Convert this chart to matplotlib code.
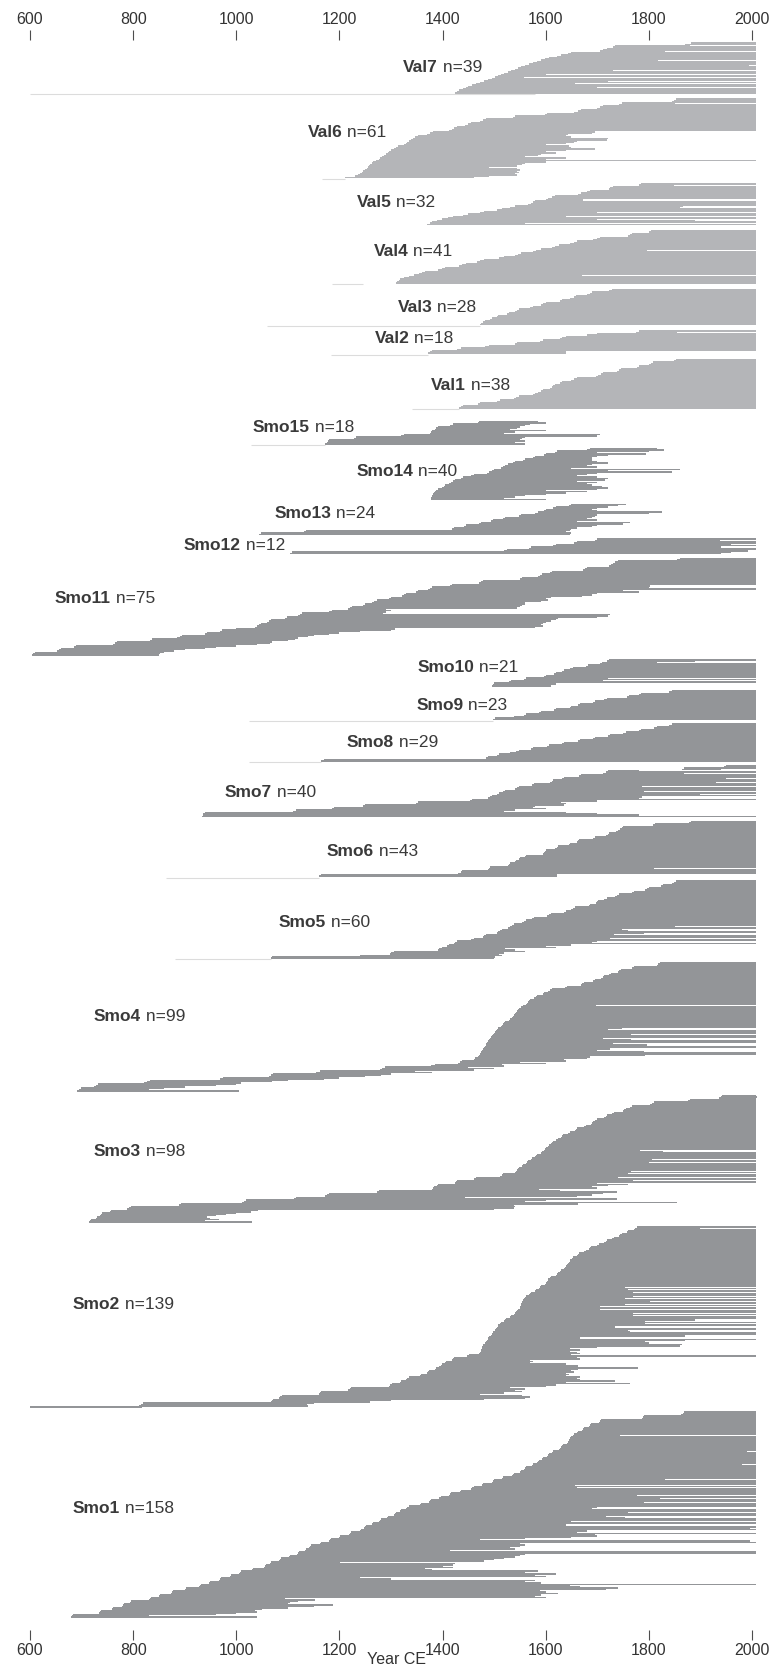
import numpy as np
import matplotlib
matplotlib.use("Agg")
import matplotlib.pyplot as plt

plt.rcParams["font.family"] = ["Liberation Sans", "DejaVu Sans"]

# first / last ring year of every dated sample, sorted by first year within each site
val7_start = [1882, 1870, 1735, 1730, 1718, 1712, 1705, 1650, 1644, 1630,
              1622, 1606, 1598, 1590, 1584, 1575, 1568, 1560, 1553, 1546,
              1540, 1533, 1526, 1520, 1514, 1508, 1502, 1496, 1488, 1480,
              1472, 1465, 1458, 1450, 1446, 1440, 1432, 1428, 1425]
val7_end = [2007, 2007, 1880, 2007, 2007, 2007, 1832, 2007, 2007, 2007,
            2007, 2007, 2007, 1818, 2007, 2007, 2007, 1995, 2007, 2007,
            2007, 1730, 2007, 2007, 1600, 2007, 1557, 2007, 2007, 1720,
            2007, 1657, 2007, 2007, 1700, 2007, 2007, 2007, 2007]

val6_start = [1852, 1848, 1845, 1748, 1742, 1712, 1706, 1700, 1668, 1662,
              1655, 1603, 1598, 1540, 1536, 1485, 1478, 1472, 1455, 1449,
              1443, 1428, 1422, 1418, 1412, 1382, 1376, 1370, 1352, 1347,
              1342, 1338, 1334, 1332, 1330, 1326, 1314, 1310, 1306, 1300,
              1296, 1294, 1291, 1287, 1282, 1279, 1276, 1270, 1266, 1264,
              1260, 1257, 1255, 1253, 1250, 1246, 1244, 1240, 1236, 1230,
              1211]
val6_end = [2007, 2007, 2007, 1850, 2007, 2007, 2007, 2007, 2007, 2007,
            2007, 2007, 2007, 2007, 2007, 2007, 2007, 2007, 2007, 2007,
            2007, 2007, 2007, 2007, 2007, 1696, 1690, 1643, 1640, 1650,
            1720, 1718, 1660, 1655, 1640, 1600, 1645, 1650, 1696, 1640,
            1600, 1620, 1590, 1585, 1560, 1640, 1600, 2007, 1600, 1560,
            1555, 1545, 1490, 1545, 1550, 1545, 1548, 1540, 1545, 1490,
            1460]

val5_start = [1785, 1780, 1730, 1725, 1722, 1685, 1680, 1668, 1662, 1618,
              1612, 1605, 1600, 1580, 1576, 1572, 1566, 1540, 1530, 1515,
              1505, 1480, 1473, 1450, 1440, 1421, 1410, 1398, 1389, 1380,
              1375, 1369]
val5_end = [2007, 1848, 2007, 2007, 2007, 2007, 2007, 2007, 2007, 2007,
            2007, 2007, 1673, 1673, 2007, 2007, 2007, 1867, 1860, 2007,
            2007, 2007, 1700, 2007, 2007, 1640, 2007, 1700, 1890, 2007,
            1560, 2007]

val4_start = [1805, 1800, 1768, 1764, 1760, 1705, 1699, 1692, 1660, 1654,
              1648, 1625, 1618, 1612, 1590, 1582, 1576, 1552, 1546, 1540,
              1520, 1510, 1480, 1473, 1466, 1445, 1438, 1432, 1405, 1398,
              1392, 1365, 1360, 1355, 1345, 1335, 1325, 1318, 1315, 1312,
              1310]
val4_end = [2007, 2007, 2007, 2007, 2007, 2007, 2007, 2007, 2007, 2007,
            2007, 2007, 2007, 2007, 2007, 1796, 2007, 2007, 2007, 2007,
            2007, 2007, 2007, 2007, 2007, 2007, 2007, 2007, 2007, 2007,
            2007, 2007, 2007, 2007, 1670, 2007, 2007, 2007, 2007, 2007,
            2007]

val3_start = [1728, 1722, 1690, 1686, 1680, 1658, 1654, 1648, 1632, 1628,
              1600, 1595, 1590, 1575, 1570, 1548, 1544, 1540, 1528, 1524,
              1508, 1505, 1495, 1492, 1482, 1479, 1475, 1472]
val3_end = [2007, 2007, 2007, 2007, 2007, 2007, 2007, 2007, 2007, 2007,
            2007, 2007, 2007, 2007, 2007, 2007, 2007, 2007, 2007, 2007,
            2007, 2007, 2007, 2007, 2007, 2007, 2007, 2007]

val2_start = [1780, 1776, 1700, 1680, 1640, 1632, 1628, 1595, 1588, 1545,
              1540, 1490, 1483, 1435, 1428, 1380, 1376, 1372]
val2_end = [2007, 1855, 2007, 2007, 2007, 2007, 2007, 2007, 2007, 2007,
            2007, 2007, 2007, 2007, 2007, 2007, 1640, 1640]

val1_start = [1852, 1848, 1808, 1804, 1800, 1780, 1777, 1746, 1742, 1738,
              1712, 1708, 1702, 1698, 1660, 1655, 1650, 1632, 1628, 1618,
              1614, 1612, 1608, 1594, 1590, 1586, 1580, 1576, 1548, 1542,
              1538, 1512, 1506, 1472, 1468, 1440, 1436, 1432]
val1_end = [2007, 2007, 2007, 2007, 2007, 2007, 2007, 2007, 2007, 2007,
            2007, 2007, 2007, 2007, 2007, 2007, 2007, 2007, 2007, 2007,
            2007, 2007, 2007, 2007, 2007, 2007, 2007, 2007, 2007, 2007,
            2007, 2007, 2007, 2007, 2007, 2007, 2007, 2007]

smo15_start = [1470, 1468, 1420, 1415, 1392, 1388, 1385, 1380, 1378, 1375,
               1325, 1320, 1232, 1228, 1180, 1177, 1175, 1172]
smo15_end = [1585, 1600, 1570, 1560, 1550, 1545, 1530, 1600, 1540, 1520,
             1705, 1700, 1560, 1555, 1550, 1560, 1540, 1560]

smo14_start = [1685, 1680, 1622, 1618, 1600, 1596, 1580, 1576, 1560, 1556,
               1540, 1536, 1526, 1522, 1518, 1514, 1500, 1496, 1490, 1486,
               1460, 1456, 1440, 1436, 1425, 1420, 1416, 1412, 1405, 1402,
               1398, 1392, 1388, 1385, 1383, 1381, 1380, 1379, 1378, 1377]
smo14_end = [1815, 1830, 1800, 1700, 1795, 1720, 1700, 1690, 1690, 1690,
             1700, 1720, 1690, 1680, 1700, 1650, 1860, 1720, 1845, 1700,
             1680, 1660, 1700, 1720, 1715, 1660, 1700, 1680, 1690, 1710,
             1720, 1700, 1600, 1680, 1640, 1600, 1560, 1540, 1520, 1600]

smo13_start = [1650, 1645, 1620, 1615, 1600, 1596, 1585, 1580, 1552, 1548,
               1522, 1518, 1498, 1494, 1474, 1470, 1446, 1442, 1422, 1418,
               1135, 1132, 1048, 1045]
smo13_end = [1755, 1740, 1720, 1700, 1690, 1700, 1826, 1800, 1700, 1696,
             1690, 1680, 1700, 1660, 1764, 1750, 1700, 1690, 1660, 1650,
             1648, 1640, 1650, 1648]

smo12_start = [1700, 1695, 1660, 1655, 1620, 1615, 1572, 1568, 1524, 1520,
               1108, 1105]
smo12_end = [2007, 1938, 2007, 2007, 1960, 2007, 1940, 2007, 2007, 1992,
             1960, 1940]

smo11_start = [1860, 1855, 1740, 1735, 1730, 1726, 1722, 1680, 1676, 1672,
               1612, 1608, 1592, 1588, 1585, 1555, 1550, 1478, 1474, 1470,
               1418, 1414, 1380, 1376, 1372, 1352, 1348, 1330, 1326, 1322,
               1300, 1296, 1272, 1268, 1264, 1250, 1246, 1224, 1220, 1216,
               1185, 1180, 1128, 1124, 1120, 1098, 1094, 1068, 1064, 1060,
               1048, 1045, 1040, 1036, 1000, 972, 968, 944, 940, 895,
               890, 886, 836, 832, 768, 764, 760, 690, 686, 660,
               656, 652, 610, 606, 604]
smo11_end = [2007, 2007, 2007, 2007, 2007, 2007, 2007, 2007, 2007, 2007,
             2007, 2007, 2007, 2007, 2007, 2007, 2007, 2007, 2007, 2007,
             2007, 1803, 1800, 2007, 2007, 1750, 1780, 1700, 1690, 1670,
             1610, 1600, 1605, 1590, 1560, 1560, 1555, 1550, 1545, 1290,
             1300, 1290, 1285, 1725, 1720, 1700, 1623, 1620, 1610, 1600,
             1595, 1590, 1594, 1580, 1308, 1300, 1240, 1200, 1180, 1150,
             1140, 1120, 1114, 1100, 1070, 1065, 1040, 1000, 960, 940,
             900, 880, 860, 852, 850]

smo10_start = [1722, 1718, 1710, 1706, 1682, 1678, 1652, 1648, 1636, 1632,
               1620, 1617, 1600, 1596, 1562, 1558, 1532, 1528, 1500, 1497,
               1495]
smo10_end = [2007, 1890, 1815, 2007, 2007, 2007, 2007, 2007, 2007, 2007,
             2007, 2007, 2007, 2007, 1720, 2007, 1712, 2007, 1620, 1620,
             1610]

smo9_start = [1845, 1840, 1785, 1781, 1762, 1758, 1718, 1714, 1696, 1692,
              1666, 1662, 1650, 1647, 1620, 1617, 1590, 1587, 1562, 1558,
              1538, 1502, 1498]
smo9_end = [2007, 2007, 2007, 2007, 2007, 2007, 2007, 2007, 2007, 2007,
            2007, 2007, 2007, 2007, 2007, 2007, 2007, 2007, 2007, 2007,
            2007, 2007, 2007]

smo8_start = [1845, 1840, 1815, 1810, 1785, 1780, 1755, 1750, 1725, 1720,
              1696, 1692, 1666, 1662, 1636, 1632, 1606, 1602, 1576, 1572,
              1548, 1543, 1530, 1510, 1506, 1488, 1484, 1170, 1165]
smo8_end = [2007, 2007, 2007, 2007, 2007, 2007, 2007, 2007, 2007, 2007,
            2007, 2007, 2007, 2007, 2007, 2007, 2007, 2007, 2007, 2007,
            2007, 2007, 2007, 2007, 2007, 2007, 2007, 2007, 2007]

smo7_start = [1950, 1945, 1868, 1864, 1720, 1716, 1712, 1668, 1664, 1636,
              1632, 1615, 1612, 1608, 1578, 1574, 1548, 1544, 1540, 1522,
              1518, 1510, 1506, 1496, 1492, 1488, 1458, 1454, 1352, 1348,
              1250, 1246, 1190, 1186, 1115, 1110, 940, 936, 935, 934]
smo7_end = [2007, 2007, 2007, 1940, 1780, 2007, 1868, 2007, 2007, 2007,
            1950, 2007, 2007, 1930, 2007, 2007, 1786, 2007, 2007, 2007,
            1790, 2007, 1900, 2007, 1786, 1780, 2007, 1700, 1630, 1640,
            1635, 1580, 1575, 1600, 1540, 1520, 1640, 1700, 1780, 2007]

smo6_start = [1882, 1878, 1812, 1808, 1750, 1747, 1745, 1740, 1736, 1722,
              1720, 1717, 1695, 1692, 1665, 1662, 1660, 1648, 1645, 1624,
              1621, 1618, 1600, 1598, 1596, 1594, 1562, 1560, 1550, 1548,
              1542, 1540, 1530, 1528, 1526, 1492, 1490, 1488, 1438, 1435,
              1430, 1165, 1161]
smo6_end = [2007, 2007, 2007, 2007, 2007, 2007, 2007, 2007, 2007, 2007,
            2007, 2007, 2007, 2007, 2007, 2007, 2007, 2007, 2007, 2007,
            2007, 2007, 2007, 2007, 2007, 2007, 2007, 2007, 2007, 2007,
            2007, 2007, 2007, 2007, 2007, 2007, 1810, 2007, 2007, 2007,
            2007, 1622, 1622]

smo5_start = [1852, 1848, 1845, 1828, 1824, 1800, 1796, 1792, 1772, 1768,
              1742, 1738, 1735, 1718, 1714, 1702, 1700, 1698, 1686, 1683,
              1656, 1652, 1650, 1640, 1636, 1610, 1606, 1602, 1578, 1574,
              1562, 1558, 1555, 1538, 1534, 1530, 1527, 1515, 1512, 1508,
              1505, 1484, 1480, 1478, 1460, 1456, 1428, 1425, 1422, 1412,
              1408, 1398, 1394, 1392, 1305, 1300, 1298, 1240, 1070, 1067]
smo5_end = [2007, 2007, 2007, 2007, 2007, 2007, 2007, 2007, 2007, 2007,
            2007, 2007, 2007, 2007, 2007, 2007, 2007, 2007, 2007, 2007,
            2007, 2007, 2007, 2007, 2007, 2007, 2007, 2007, 2007, 2007,
            2007, 2007, 2007, 2007, 2007, 1850, 2007, 1748, 1760, 2007,
            1790, 1732, 2007, 2007, 1725, 2007, 1700, 1690, 2007, 1650,
            1600, 1620, 1521, 1540, 1560, 1520, 1510, 1515, 1502, 1500]

smo4_start = [1822, 1818, 1815, 1772, 1768, 1746, 1742, 1740, 1727, 1723,
              1714, 1711, 1708, 1696, 1692, 1675, 1671, 1668, 1642, 1638,
              1612, 1608, 1605, 1597, 1594, 1584, 1581, 1578, 1570, 1567,
              1565, 1563, 1561, 1556, 1553, 1548, 1546, 1544, 1542, 1540,
              1538, 1536, 1534, 1530, 1528, 1522, 1520, 1518, 1515, 1513,
              1508, 1506, 1504, 1502, 1500, 1498, 1496, 1494, 1492, 1490,
              1488, 1486, 1485, 1484, 1482, 1480, 1478, 1477, 1475, 1474,
              1472, 1470, 1468, 1463, 1460, 1438, 1434, 1430, 1385, 1378,
              1288, 1282, 1278, 1162, 1155, 1072, 1068, 1064, 975, 968,
              832, 826, 822, 732, 728, 724, 698, 695, 692]
smo4_end = [2007, 2007, 2007, 2007, 2007, 2007, 2007, 2007, 2007, 2007,
            2007, 2007, 2007, 2007, 2007, 2007, 2007, 2007, 2007, 2007,
            2007, 2007, 2007, 2007, 2007, 2007, 2007, 2007, 2007, 2007,
            2007, 2007, 2007, 1698, 2007, 2007, 2007, 2007, 2007, 2007,
            2007, 2007, 2007, 2007, 2007, 2007, 2007, 2007, 2007, 2007,
            1748, 1720, 2007, 2007, 2007, 1765, 2007, 2007, 1712, 1765,
            2007, 2007, 1730, 1797, 2007, 2007, 1725, 1700, 1790, 2007,
            2007, 1792, 1685, 1680, 1636, 1640, 1551, 1600, 1515, 1520,
            1450, 1500, 1460, 1346, 1380, 1300, 1280, 1250, 1200, 1170,
            1100, 1070, 1010, 1000, 960, 900, 860, 830, 1006]

smo3_start = [1942, 1939, 1936, 1880, 1876, 1810, 1806, 1802, 1768, 1764,
              1755, 1752, 1750, 1732, 1728, 1718, 1716, 1714, 1700, 1696,
              1691, 1689, 1687, 1678, 1674, 1660, 1658, 1656, 1647, 1643,
              1633, 1631, 1629, 1624, 1620, 1615, 1613, 1611, 1606, 1604,
              1601, 1599, 1597, 1592, 1590, 1584, 1582, 1580, 1574, 1572,
              1566, 1564, 1562, 1556, 1554, 1548, 1546, 1544, 1543, 1541,
              1518, 1515, 1512, 1464, 1460, 1428, 1426, 1424, 1392, 1389,
              1383, 1381, 1379, 1276, 1272, 1180, 1176, 1172, 1115, 1111,
              1018, 1015, 1012, 892, 888, 795, 792, 789, 758, 755,
              740, 738, 736, 730, 728, 718, 716, 714]
smo3_end = [2007, 2010, 2007, 2007, 2007, 2007, 2007, 2007, 2007, 2007,
            2007, 2007, 2007, 2007, 2007, 2007, 2007, 2007, 2007, 2007,
            2007, 2007, 2007, 2007, 2007, 2007, 2007, 2007, 2007, 2007,
            2007, 2007, 2007, 2007, 2007, 2007, 2007, 2007, 2007, 2007,
            2007, 2007, 1783, 1828, 2007, 2007, 2007, 2007, 2007, 1806,
            2007, 1800, 2007, 2007, 2007, 2007, 2007, 2007, 1765, 2007,
            1760, 2007, 2007, 1740, 2007, 1770, 2007, 1700, 1760, 1720,
            1690, 1700, 1587, 1627, 1739, 1712, 1690, 1660, 1444, 1739,
            1600, 1560, 1855, 1663, 1538, 1540, 1538, 1500, 1042, 1029,
            1000, 980, 960, 944, 950, 966, 940, 1030]

smo2_start = [1777, 1774, 1771, 1760, 1757, 1747, 1745, 1742, 1732, 1729,
              1718, 1716, 1713, 1703, 1700, 1688, 1686, 1684, 1678, 1675,
              1664, 1662, 1660, 1653, 1651, 1648, 1647, 1646, 1644, 1642,
              1639, 1638, 1636, 1630, 1627, 1624, 1622, 1620, 1611, 1608,
              1605, 1604, 1602, 1600, 1598, 1591, 1589, 1587, 1581, 1579,
              1572, 1570, 1568, 1562, 1559, 1557, 1556, 1555, 1554, 1553,
              1552, 1551, 1550, 1547, 1545, 1542, 1541, 1539, 1532, 1530,
              1523, 1522, 1520, 1513, 1511, 1508, 1507, 1505, 1503, 1501,
              1498, 1497, 1495, 1493, 1491, 1489, 1488, 1486, 1484, 1482,
              1479, 1478, 1477, 1476, 1475, 1474, 1473, 1471, 1451, 1447,
              1422, 1420, 1418, 1406, 1404, 1398, 1396, 1394, 1387, 1385,
              1373, 1371, 1369, 1358, 1356, 1334, 1332, 1330, 1319, 1317,
              1301, 1299, 1297, 1223, 1220, 1217, 1165, 1163, 1160, 1088,
              1085, 1082, 1072, 1070, 1068, 820, 815, 812, 600]
smo2_end = [2007, 1900, 2007, 2007, 2007, 2007, 2007, 2007, 2007, 2007,
            2007, 2007, 2007, 2007, 2007, 2007, 2007, 2007, 2007, 2007,
            2007, 2007, 2007, 2007, 2007, 2007, 2007, 2007, 2007, 2007,
            2007, 2007, 2007, 2007, 2007, 2007, 2007, 2007, 2007, 2007,
            2007, 2007, 2007, 2007, 2007, 2007, 1754, 2007, 1760, 2007,
            1769, 2007, 2007, 1769, 2007, 1754, 2007, 1803, 2007, 1754,
            2007, 1706, 2007, 1706, 2007, 2007, 1769, 2007, 1769, 2007,
            2007, 1890, 1793, 2007, 1793, 2007, 1735, 1735, 2007, 1760,
            1764, 2007, 2007, 1871, 1871, 1667, 2007, 1871, 1793, 1800,
            1865, 1860, 1700, 1648, 1667, 1648, 1660, 1667, 1650, 2007,
            1660, 1667, 1570, 1575, 1570, 1640, 1662, 1662, 1779, 1662,
            1650, 1655, 1640, 1645, 1640, 1667, 1660, 1667, 1735, 1640,
            1764, 1620, 1600, 1531, 1560, 1540, 1555, 1520, 1473, 1555,
            1570, 1560, 1480, 1300, 1260, 1150, 1138, 1140, 818]

smo1_start = [1869, 1866, 1863, 1790, 1788, 1786, 1708, 1706, 1704, 1688,
              1686, 1684, 1674, 1672, 1670, 1663, 1661, 1654, 1652, 1650,
              1648, 1646, 1645, 1643, 1641, 1634, 1632, 1630, 1628, 1626,
              1615, 1613, 1606, 1604, 1602, 1595, 1593, 1587, 1585, 1583,
              1576, 1574, 1562, 1560, 1558, 1552, 1550, 1538, 1536, 1534,
              1518, 1516, 1499, 1497, 1495, 1479, 1477, 1460, 1458, 1456,
              1435, 1433, 1417, 1415, 1413, 1396, 1394, 1378, 1376, 1374,
              1358, 1356, 1334, 1332, 1330, 1319, 1317, 1310, 1308, 1306,
              1295, 1293, 1281, 1279, 1277, 1265, 1263, 1252, 1250, 1248,
              1241, 1239, 1223, 1221, 1219, 1202, 1200, 1184, 1182, 1180,
              1164, 1162, 1145, 1143, 1141, 1135, 1133, 1121, 1119, 1117,
              1105, 1103, 1087, 1085, 1083, 1067, 1065, 1058, 1056, 1054,
              1033, 1031, 1009, 1007, 1005, 989, 987, 971, 969, 967,
              950, 948, 932, 930, 928, 902, 900, 878, 876, 874,
              853, 851, 835, 833, 831, 795, 793, 782, 780, 778,
              761, 759, 738, 736, 734, 684, 682, 680]
smo1_end = [2007, 2007, 2007, 2007, 2007, 2007, 2007, 2007, 2007, 2007,
            2007, 2007, 2007, 2007, 2007, 2007, 2007, 2007, 1745, 2007,
            2007, 2007, 2007, 2007, 2007, 2007, 2007, 2007, 2007, 2007,
            1990, 2007, 2007, 2007, 2007, 2007, 2007, 2007, 2007, 2007,
            1980, 2007, 2007, 2007, 2007, 2007, 2007, 2007, 2007, 2007,
            2007, 2007, 1832, 2007, 2007, 2007, 1657, 2007, 1660, 2007,
            2007, 2007, 2007, 2007, 1778, 2007, 1822, 2007, 2007, 1790,
            2007, 2007, 2007, 1700, 1690, 2007, 2007, 1760, 2007, 2007,
            1716, 1754, 2007, 2007, 1650, 2007, 1640, 1640, 2007, 1997,
            2007, 1680, 1660, 2007, 1696, 1700, 1650, 1560, 1473, 1997,
            2007, 1551, 1560, 1550, 1530, 1540, 1415, 2007, 2007, 1560,
            1550, 1540, 1520, 1500, 1480, 1201, 1425, 1420, 1400, 1420,
            1366, 1380, 1585, 1560, 1619, 1580, 1600, 1240, 1300, 1580,
            1560, 1590, 2007, 1648, 1667, 1740, 1716, 1589, 1600, 1623,
            1590, 1580, 1600, 1095, 1153, 1120, 1104, 1100, 1187, 1150,
            1100, 1050, 1037, 1041, 1000, 960, 830, 1041]

sites = ["Val7", "Val6", "Val5", "Val4", "Val3", "Val2", "Val1",
         "Smo15", "Smo14", "Smo13", "Smo12", "Smo11", "Smo10", "Smo9",
         "Smo8", "Smo7", "Smo6", "Smo5", "Smo4", "Smo3", "Smo2", "Smo1"]
site_starts = [val7_start, val6_start, val5_start, val4_start, val3_start,
               val2_start, val1_start, smo15_start, smo14_start, smo13_start,
               smo12_start, smo11_start, smo10_start, smo9_start, smo8_start,
               smo7_start, smo6_start, smo5_start, smo4_start, smo3_start,
               smo2_start, smo1_start]
site_ends = [val7_end, val6_end, val5_end, val4_end, val3_end,
             val2_end, val1_end, smo15_end, smo14_end, smo13_end,
             smo12_end, smo11_end, smo10_end, smo9_end, smo8_end,
             smo7_end, smo6_end, smo5_end, smo4_end, smo3_end,
             smo2_end, smo1_end]

# pale undated stretches below some sites (year from, year to)
lead_from = [600, 1167, None, 1185, 1060, 1184, 1340, 1028, None, None, None,
             None, None, 1024, 1024, None, 864, 881, None, None, None, None]
lead_to = [1580, 1211, None, 1245, 1472, 1372, 1432, 1172, None, None, None,
           None, None, 1498, 1165, None, 1161, 1067, None, None, None, None]

# label anchor: year of the left edge, and height within the site block
label_year = [1324, 1138, 1233, 1266, 1313, 1268, 1378, 1032, 1233, 1074, 898,
              648, 1351, 1349, 1214, 978, 1175, 1082, 724, 724, 683, 683]
label_frac = [0.48, 0.43, 0.46, 0.40, 0.50, 0.36, 0.54, 0.27, 0.45, 0.31, 0.47,
              0.42, 0.31, 0.50, 0.49, 0.53, 0.55, 0.54, 0.42, 0.44, 0.43, 0.47]

VAL_GREY = "#b4b5b8"
SMO_GREY = "#939598"
TEXT = "#3a3a3a"
VAL_GAP, GROUP_GAP, SMO_GAP = 3.9, 9.4, 2.7

fig = plt.figure(figsize=(7.76, 16.72), dpi=100)
ax = fig.add_axes([30 / 776, 42 / 1672, 732.3 / 776, 1590 / 1672])

row = 0.0
for i, name in enumerate(sites):
    s = np.array(site_starts[i])
    e = np.array(site_ends[i])
    n = len(s)
    ypos = row + np.arange(n) + 0.5
    color = VAL_GREY if name.startswith("Val") else SMO_GREY
    # bars slightly taller than a row so neighbours merge into one block
    ax.barh(ypos, e - s, left=s, height=1.2, color=color, linewidth=0)
    if lead_from[i] is not None:
        ax.hlines(row + n + 0.6, lead_from[i], lead_to[i], color="#dcdcdc",
                  linewidth=0.8)
    t = ax.text(label_year[i], row + label_frac[i] * n, name, fontsize=12.5,
                fontweight="bold", color=TEXT, ha="left", va="center")
    ax.annotate(f" n={n}", xy=(1, 0), xycoords=t, ha="left", va="bottom",
                fontsize=12.5, color=TEXT)
    row += n
    if i < len(sites) - 1:
        if name == "Val1":
            row += GROUP_GAP
        elif name.startswith("Val"):
            row += VAL_GAP
        else:
            row += SMO_GAP

ax.set_xlim(600, 2020)
ax.set_ylim(row + 9.5, -2)
ticks = np.arange(600, 2001, 200)
ax.set_xticks(ticks)
ax.set_yticks([])
for sp in ax.spines.values():
    sp.set_visible(False)
tick_style = dict(direction="out", length=7.2, width=0.8, color="#4d4d4d",
                  labelsize=11.5, labelcolor="#333333", pad=2)
ax.tick_params(axis="x", **tick_style)
ax.set_xlabel("Year CE", fontsize=11.5, color="#333333")
ax.xaxis.set_label_coords(0.5, -0.0137)

top = ax.secondary_xaxis("top")
top.set_xticks(ticks)
top.tick_params(axis="x", **tick_style)
for sp in top.spines.values():
    sp.set_visible(False)

fig.savefig("out.png", dpi=100)
